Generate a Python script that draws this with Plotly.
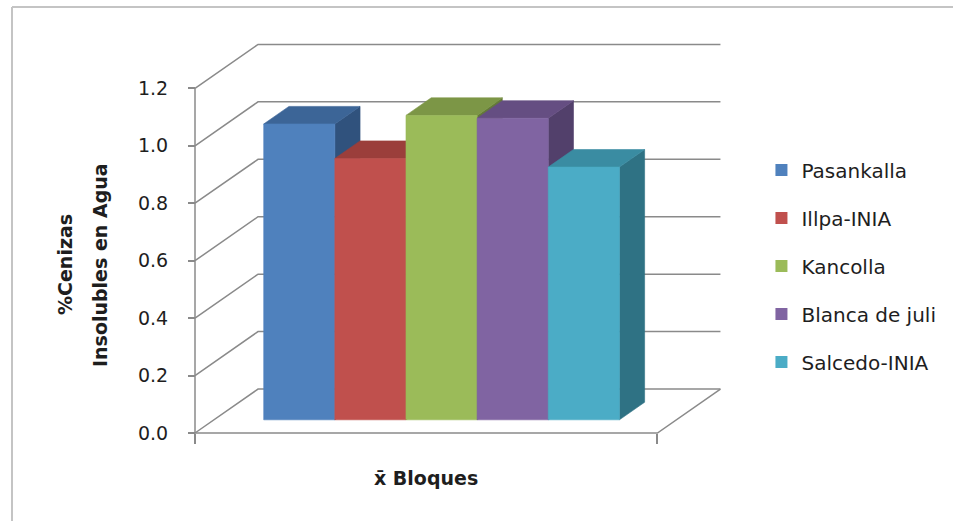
import plotly.graph_objects as go

# ---- data -------------------------------------------------------------
varieties = ["Pasankalla", "Illpa-INIA", "Kancolla", "Blanca de juli", "Salcedo-INIA"]
values = [1.03, 0.91, 1.06, 1.05, 0.88]
y_ticks = [0.0, 0.2, 0.4, 0.6, 0.8, 1.0, 1.2]

# ---- styling ------------------------------------------------------------
front_colors = ["#4F81BD", "#C0504D", "#9BBB59", "#8064A2", "#4BACC6"]
top_colors = ["#3C6597", "#9B3E3B", "#7C9646", "#654E82", "#3A8CA2"]
side_colors = ["#30527D", "#7F3230", "#647A38", "#52406B", "#2F7284"]
GRID = "#8A8A8A"
TEXT = "#1E1E1E"
FONT = "DejaVu Sans"

# ---- oblique projection (category units on x, value units on y) -----------
FLOOR_W = 6.5          # width of the category along the floor, in bar widths
BAR_START = 0.7        # first bar offset from the left wall
DEPTH_DX = 0.886       # horizontal shift of the full depth
DEPTH_DY = 0.153       # vertical shift of the full depth
BAR_D0, BAR_D1 = 0.3, 0.7


def proj(u, v, d):
    return u + d * DEPTH_DX, v + d * DEPTH_DY


def path(points):
    xs, ys = [], []
    for u, v, d in points:
        x, y = proj(u, v, d)
        xs.append(x)
        ys.append(y)
    return xs, ys


# pixel layout of the canvas
W_PX, H_PX = 953, 521
ORIGIN_X_PX, ORIGIN_Y_PX = 195, 433   # front-left floor corner
PX_PER_U, PX_PER_V = 71.14, 287.2

x_range = [-ORIGIN_X_PX / PX_PER_U, (W_PX - ORIGIN_X_PX) / PX_PER_U]
y_range = [-(H_PX - ORIGIN_Y_PX) / PX_PER_V, ORIGIN_Y_PX / PX_PER_V]

fig = go.Figure()

# walls, floor and gridlines
gx, gy = [], []
top_val = y_ticks[-1]
for t in y_ticks:
    xs, ys = path([(0, t, 0), (0, t, 1), (FLOOR_W, t, 1)])
    gx += xs + [None]
    gy += ys + [None]
xs, ys = path([(0, 0, 0), (FLOOR_W, 0, 0), (FLOOR_W, 0, 1)])
gx += xs + [None]
gy += ys + [None]
xs, ys = path([(0, 0, 0), (0, top_val, 0)])
gx += xs
gy += ys
fig.add_trace(go.Scatter(x=gx, y=gy, mode="lines",
                         line=dict(color=GRID, width=1.5),
                         hoverinfo="skip", showlegend=False))

# 3D columns, drawn left to right so each column hides the side of the previous
for i, (name, v) in enumerate(zip(varieties, values)):
    u0 = BAR_START + i
    u1 = u0 + 1
    faces = [
        ([(u1, 0, BAR_D0), (u1, 0, BAR_D1), (u1, v, BAR_D1), (u1, v, BAR_D0)], side_colors[i]),
        ([(u0, v, BAR_D0), (u1, v, BAR_D0), (u1, v, BAR_D1), (u0, v, BAR_D1)], top_colors[i]),
        ([(u0, 0, BAR_D0), (u1, 0, BAR_D0), (u1, v, BAR_D0), (u0, v, BAR_D0)], front_colors[i]),
    ]
    for pts, col in faces:
        xs, ys = path(pts + [pts[0]])
        fig.add_trace(go.Scatter(x=xs, y=ys, mode="lines", fill="toself",
                                 fillcolor=col, line=dict(color=col, width=0.6),
                                 name=name, hovertemplate=f"{name}: {v:.2f}<extra></extra>",
                                 showlegend=False))

# legend entries
for i, name in enumerate(varieties):
    fig.add_trace(go.Scatter(x=[None], y=[None], mode="markers", name=name,
                             legendgroup=f"g{i}",
                             marker=dict(symbol="square", size=12, color=front_colors[i])))

fig.update_layout(
    width=W_PX, height=H_PX,
    margin=dict(l=0, r=0, t=0, b=0),
    paper_bgcolor="white", plot_bgcolor="white",
    font=dict(family=FONT, size=19, color=TEXT),
    showlegend=True,
    legend=dict(x=0.799, y=0.711, xanchor="left", yanchor="top",
                font=dict(family=FONT, size=20, color=TEXT),
                tracegroupgap=19, itemsizing="constant",
                bgcolor="rgba(0,0,0,0)"),
    xaxis=dict(range=x_range, domain=[0, 1], anchor="free",
               position=(H_PX - ORIGIN_Y_PX) / H_PX,
               tickvals=[0, FLOOR_W], ticks="outside", ticklen=10,
               tickcolor=GRID, tickwidth=1.5, showticklabels=False,
               showgrid=False, zeroline=False, showline=False,
               automargin=False, fixedrange=True),
    yaxis=dict(range=y_range, domain=[0, 1], anchor="free",
               position=ORIGIN_X_PX / W_PX,
               tickvals=y_ticks, tickformat=".1f", ticks="outside", ticklen=7,
               tickcolor=GRID, tickwidth=1.5, ticklabelstandoff=16,
               tickfont=dict(family=FONT, size=19, color=TEXT),
               showgrid=False, zeroline=False, showline=False,
               automargin=False, fixedrange=True),
    annotations=[
        dict(text="<b>%Cenizas</b>", textangle=-90,
             x=65 / W_PX, y=1 - 265 / H_PX, xref="paper", yref="paper",
             xanchor="center", yanchor="middle", showarrow=False,
             font=dict(family=FONT, size=19, color=TEXT)),
        dict(text="<b>Insolubles en Agua</b>", textangle=-90,
             x=100 / W_PX, y=1 - 265 / H_PX, xref="paper", yref="paper",
             xanchor="center", yanchor="middle", showarrow=False,
             font=dict(family=FONT, size=19, color=TEXT)),
        dict(text="<b>x̄ Bloques</b>",
             x=426 / W_PX, y=1 - 478 / H_PX, xref="paper", yref="paper",
             xanchor="center", yanchor="middle", showarrow=False,
             font=dict(family=FONT, size=19, color=TEXT)),
    ],
    shapes=[
        dict(type="line", xref="paper", yref="paper",
             x0=12 / W_PX, x1=1, y0=1 - 7 / H_PX, y1=1 - 7 / H_PX,
             line=dict(color="#C4C4C4", width=2)),
        dict(type="line", xref="paper", yref="paper",
             x0=12 / W_PX, x1=12 / W_PX, y0=0, y1=1 - 7 / H_PX,
             line=dict(color="#C4C4C4", width=2)),
    ],
)

fig.write_html("out.html")
